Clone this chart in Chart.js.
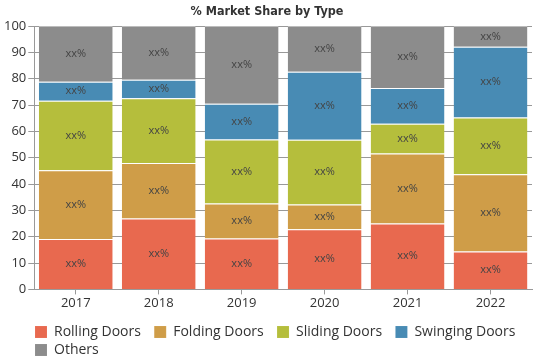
<!DOCTYPE html>
<html>
<head>
<meta charset="utf-8">
<script src="https://cdn.jsdelivr.net/npm/chart.js@4"></script>
<style>
  html, body { margin: 0; padding: 0; background: #fff; }
  #wrap { width: 539px; height: 359px; }
</style>
</head>
<body>
<div id="wrap"><canvas id="shareChart" width="539" height="359"></canvas></div>
<script>
// values (% share, stacked to 100)
const years = ['2017', '2018', '2019', '2020', '2021', '2022'];
const rollingDoors  = [19.1, 26.9, 19.3, 22.8, 25.0, 14.4];
const foldingDoors  = [26.1, 21.1, 13.3,  9.4, 26.6, 29.3];
const slidingDoors  = [26.4, 24.6, 24.3, 24.6, 11.3, 21.6];
const swingingDoors = [ 7.2,  7.0, 13.6, 25.8, 13.6, 26.8];
const others        = [21.2, 20.4, 29.5, 17.4, 23.5,  7.9];
const yTicks = [0, 10, 20, 30, 40, 50, 60, 70, 80, 90, 100];

const seriesColors = ['#e8694f', '#cf9d48', '#b5be3c', '#488bb4', '#8c8c8c'];

// draws "xx%" in the middle of every segment
const segmentLabels = {
    id: 'segmentLabels',
    afterLayout(chart) {
        // legend rows start under the plot, and sit a bit lower
        if (chart.legend) {
            chart.legend.left = 31;
            chart.legend.top += 9;
        }
    },
    afterDatasetsDraw(chart) {
        const c = chart.ctx;
        c.save();
        c.font = '11px "Open Sans"';
        c.fillStyle = '#444';
        c.textAlign = 'center';
        c.textBaseline = 'middle';
        chart.data.datasets.forEach((ds, i) => {
            chart.getDatasetMeta(i).data.forEach(bar => {
                c.fillText('xx%', bar.x, (bar.y + bar.base) / 2);
            });
        });
        c.restore();
    }
};

function makeSeries(label, data, color) {
    return {
        label: label,
        data: data,
        backgroundColor: color,
        borderColor: 'rgba(255,255,255,0.35)',
        borderWidth: { top: 1, left: 0, right: 0, bottom: 0 },
        borderSkipped: false
    };
}

const ctx = document.getElementById('shareChart').getContext('2d');
new Chart(ctx, {
    type: 'bar',
    data: {
        labels: years,
        datasets: [
            makeSeries('Rolling Doors', rollingDoors, seriesColors[0]),
            makeSeries('Folding Doors', foldingDoors, seriesColors[1]),
            makeSeries('Sliding Doors', slidingDoors, seriesColors[2]),
            makeSeries('Swinging Doors', swingingDoors, seriesColors[3]),
            makeSeries('Others', others, seriesColors[4])
        ]
    },
    options: {
        responsive: false,
        animation: false,
        categoryPercentage: 0.89,
        barPercentage: 1,
        layout: { padding: { left: 2, right: 7, top: 0, bottom: 1 } },
        plugins: {
            title: {
                display: true,
                text: '% Market Share by Type',
                color: '#333',
                font: { family: '"DejaVu Sans Condensed", "DejaVu Sans"', size: 12.5, weight: 'bold' },
                padding: { top: 4, bottom: 7 }
            },
            legend: {
                position: 'bottom',
                align: 'start',
                labels: {
                    boxWidth: 12,
                    boxHeight: 12,
                    padding: 4,
                    color: '#333',
                    font: { family: '"Open Sans"', size: 14 },
                    generateLabels: chart => Chart.defaults.plugins.legend.labels.generateLabels(chart)
                        .map(item => Object.assign(item, { text: item.text + '\u2002\u2009' }))
                }
            },
            tooltip: { enabled: false }
        },
        scales: {
            x: {
                stacked: true,
                grid: { offset: false, drawOnChartArea: false, tickLength: 5, color: '#999' },
                border: { color: '#999' },
                ticks: { color: '#333', font: { family: '"Open Sans"', size: 13 }, padding: 1 }
            },
            y: {
                stacked: true,
                min: 0,
                max: 100,
                afterBuildTicks: axis => { axis.ticks = yTicks.map(v => ({ value: v })); },
                grid: { color: '#999', tickLength: 6 },
                border: { color: '#999' },
                ticks: { color: '#333', font: { family: '"Open Sans"', size: 13 }, padding: 2 }
            }
        }
    },
    plugins: [segmentLabels]
});
</script>
</body>
</html>
